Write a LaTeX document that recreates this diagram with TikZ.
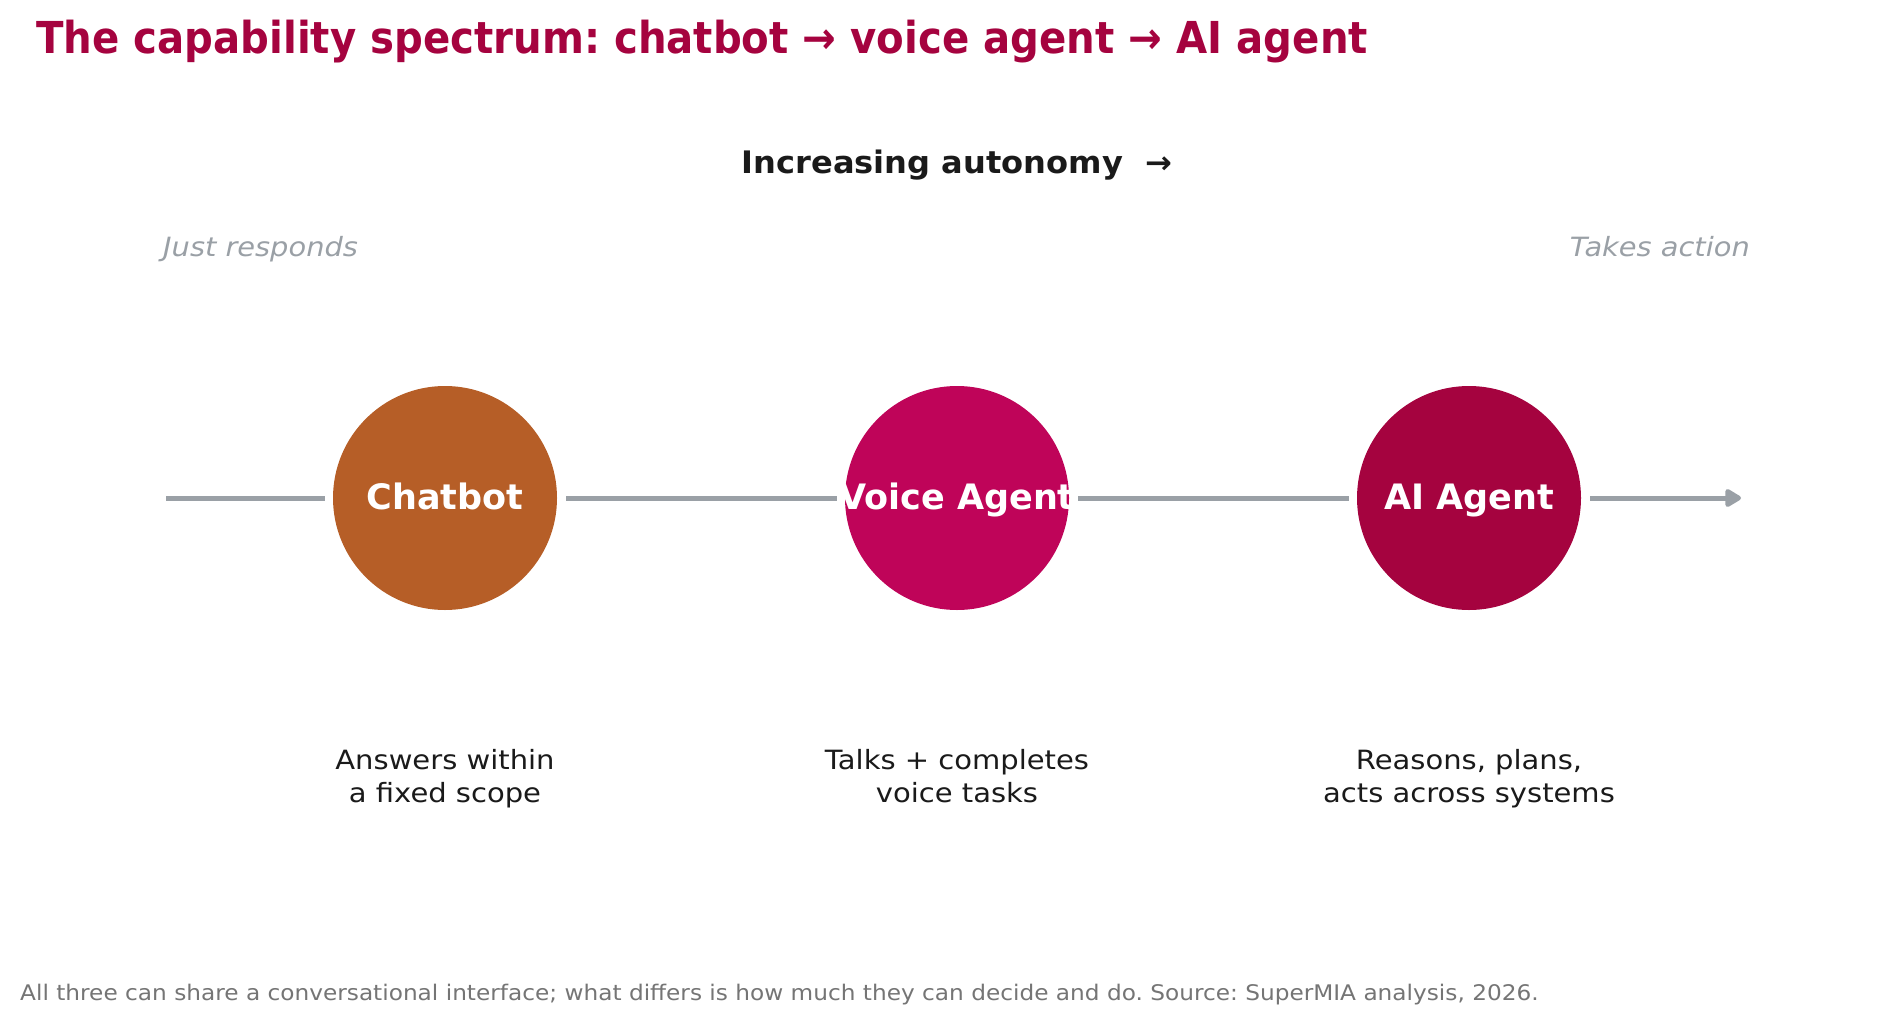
\documentclass[tikz,border=0pt]{standalone}
\usepackage{graphicx}
\usepackage{fontspec}
\setmainfont{DejaVu Sans}
\usetikzlibrary{arrows.meta}
\definecolor{titlecol}{HTML}{A5033F}
\definecolor{chatcol}{HTML}{B65E27}
\definecolor{voicecol}{HTML}{BF0459}
\definecolor{aicol}{HTML}{A5033F}
\definecolor{linecol}{HTML}{9AA0A6}
\definecolor{darktext}{HTML}{1A1A1A}
\definecolor{footcol}{HTML}{757575}
\newcommand{\fs}[2]{\fontsize{#1}{#2}\selectfont}
\newcommand{\hs}[2]{\scalebox{#1}[1]{#2}}
\newcommand{\twolines}[2]{\hs{1.095}{\begin{tabular}[b]{@{}c@{}}#1\\#2\end{tabular}}}
\frenchspacing
\begin{document}
\frenchspacing
\begin{tikzpicture}[x=1pt,y=-1pt,
  blob/.style={circle,minimum size=224pt,inner sep=0pt,draw=none},
  blobtext/.style={text=white,font=\fs{35}{42}\bfseries,anchor=base,inner sep=0pt},
  spine/.style={draw=linecol,line width=5pt},
  desc/.style={text=darktext,font=\fs{26.5}{33},anchor=base,inner sep=0pt},
  sidelabel/.style={text=linecol,font=\fs{26.5}{32}\itshape,inner sep=0pt}]
\useasboundingbox (0,0) rectangle (1897,1025);
\fill[white] (0,0) rectangle (1897,1025);
% title
\node[anchor=base west,inner sep=0pt,text=titlecol,font=\fs{44}{53}\bfseries] (title) at (36,54) {\hs{0.915}{The capability spectrum: chatbot → voice agent → AI agent}};
\node[anchor=base,inner sep=0pt,text=darktext,font=\fs{31}{37}\bfseries] (auto) at (957,173) {\hs{1.035}{Increasing autonomy\ \ →}};
\node[sidelabel,anchor=base west] (just) at (163,256) {\hs{1.09}{Just responds}};
\node[sidelabel,anchor=base east] (takes) at (1750,256) {\hs{1.09}{Takes action}};
% circles
\node[blob,fill=chatcol] (chat) at (445,498) {};
\node[blob,fill=voicecol] (voice) at (957,498) {};
\node[blob,fill=aicol] (ai) at (1469,498) {};
\coordinate (ls) at (166,498);
\coordinate (le) at (1741,498);
\draw[spine] (ls) -- ([xshift=-8pt]chat.west);
\draw[spine] ([xshift=9pt]chat.east) -- ([xshift=-8pt]voice.west);
\draw[spine] ([xshift=9pt]voice.east) -- ([xshift=-8pt]ai.west);
\draw[spine,-{Triangle[length=18pt,width=20pt,round]}] ([xshift=9pt]ai.east) -- (le);
\node[blobtext] (chatt) at ([yshift=-11pt]chat.center) {Chatbot};
\node[blobtext] (voicet) at ([yshift=-11pt]voice.center) {Voice Agent};
\node[blobtext] (ait) at ([yshift=-11pt]ai.center) {AI Agent};
% descriptions
\node[desc] (chatd) at (445,802) {\twolines{Answers within}{a fixed scope}};
\node[desc] (voiced) at (957,802) {\twolines{Talks + completes}{voice tasks}};
\node[desc] (aid) at (1469,802) {\twolines{Reasons, plans,}{acts across systems}};
% footnote
\node[anchor=base west,inner sep=0pt,text=footcol,font=\fs{21.5}{26}] (foot) at (20,1000) {\hs{1.08}{All three can share a conversational interface; what differs is how much they can decide and do. Source: SuperMIA analysis, 2026.}};
\end{tikzpicture}
\end{document}
